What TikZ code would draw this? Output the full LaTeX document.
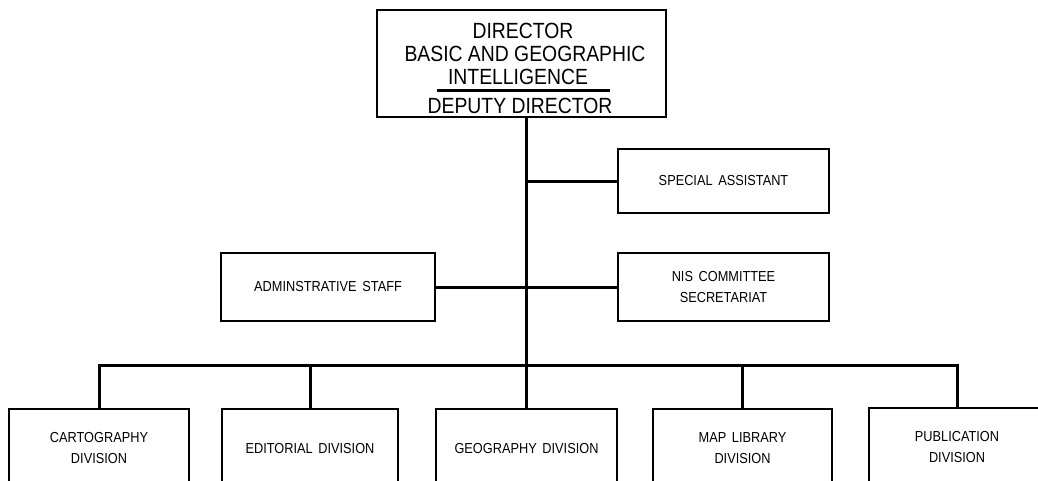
\documentclass[tikz,border=0pt]{standalone}
\usepackage{fontspec}
\setmainfont{Liberation Sans}[FakeStretch=0.88]
\newfontfamily\boxfont{Liberation Sans}[FakeStretch=0.88, WordSpace=1.6]
\begin{document}
\begin{tikzpicture}[x=1pt,y=-1pt,
  box/.style={draw, line width=1.3pt, inner sep=0pt, align=center,
              font=\boxfont\fontsize{14.5}{20.5}\selectfont},
  big/.style={inner sep=0pt, font=\fontsize{22}{26}\selectfont},
  link/.style={line width=3pt}]
\useasboundingbox (0,0) rectangle (1038,480);
\clip (0,0) rectangle (1038,480);

% director box with its title lines
\node[box, minimum width=289pt, minimum height=107pt] (dir) at (521.5,63.5) {};
\node[big] (d1) at (523,31) {DIRECTOR};
\node[big] (d2) at (525,53.5) {BASIC AND GEOGRAPHIC};
\node[big] (d3) at (518,76.5) {INTELLIGENCE};
\coordinate (rl) at (437,90.5);
\coordinate (rr) at (610,90.5);
\draw[line width=3pt] (rl) -- (rr);
\node[big] (d4) at (520,106) {DEPUTY DIRECTOR};

% staff offices
\node[box, minimum width=211pt, minimum height=64pt] (sa) at (723.5,181) {SPECIAL ASSISTANT};
\node[box, minimum width=214pt, minimum height=68pt] (adm) at (328,287) {ADMINSTRATIVE STAFF};
\node[box, minimum width=211pt, minimum height=68pt] (nis) at (723.5,287) {NIS COMMITTEE\\SECRETARIAT};

% divisions
\node[box, minimum width=180pt, minimum height=78pt] (carto) at (99,448) {CARTOGRAPHY\\DIVISION};
\node[box, minimum width=176pt, minimum height=78pt] (edit) at (310,448) {EDITORIAL DIVISION};
\node[box, minimum width=181pt, minimum height=78pt] (geo) at (526.5,448) {GEOGRAPHY DIVISION};
\node[box, minimum width=179pt, minimum height=78pt] (map) at (742.5,448) {MAP LIBRARY\\DIVISION};
\node[box, minimum width=176pt, minimum height=78pt] (pub) at (957,447) {PUBLICATION\\DIVISION};

% connectors
\coordinate (trunk) at (526,365);
\coordinate (busL) at (carto.north |- trunk);
\coordinate (busR) at (pub.north |- trunk);
\draw[link] (dir.south -| trunk) -- (trunk);
\draw[link] (sa.west -| trunk) -- (sa.west);
\draw[link] (adm.east) -- (nis.west);
\draw[link, line cap=rect] (busL) -- (busR);
\foreach \n in {carto,edit,geo,map,pub}
  \draw[link] (\n.north |- trunk) -- (\n.north);
\end{tikzpicture}
\end{document}
